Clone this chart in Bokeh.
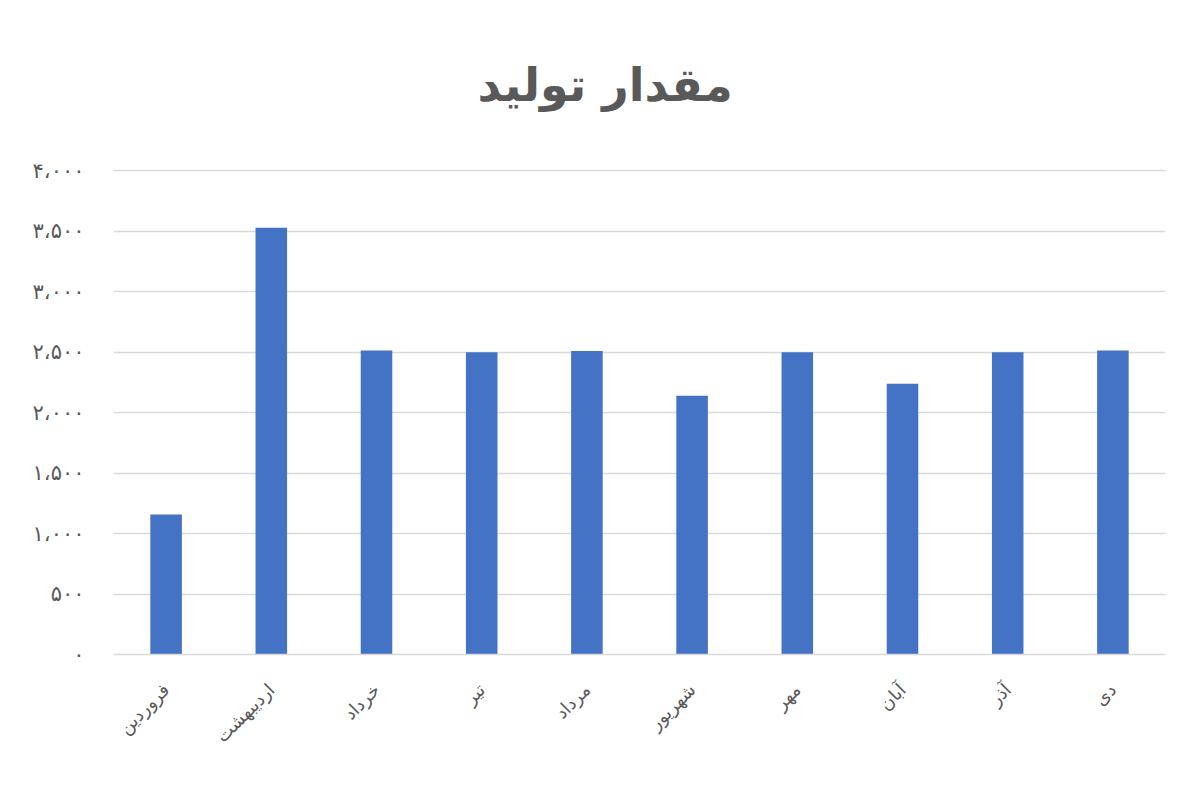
from bokeh.plotting import figure
from bokeh.models import ColumnDataSource, Range1d, FixedTicker
from bokeh.embed import file_html
from bokeh.resources import INLINE
import math

months = ["فروردین", "اردیبهشت", "خرداد", "تیر", "مرداد", "شهریور", "مهر", "آبان", "آذر", "دی"]
production = [1157, 3530, 2515, 2500, 2510, 2140, 2500, 2240, 2500, 2515]
y_ticks = [0, 500, 1000, 1500, 2000, 2500, 3000, 3500, 4000]
y_tick_labels = ["۰", "۵۰۰", "۱،۰۰۰", "۱،۵۰۰", "۲،۰۰۰", "۲،۵۰۰", "۳،۰۰۰", "۳،۵۰۰", "۴،۰۰۰"]
title_text = "مقدار تولید"

src = ColumnDataSource(dict(month=months, value=production))

p = figure(
    x_range=months,
    y_range=Range1d(0, 4020),
    width=1184,
    height=774,
    output_backend="svg",
    toolbar_location=None,
    min_border_left=113,
    min_border_right=19,
    min_border_top=168,
    min_border_bottom=120,
)

p.vbar(x="month", top="value", width=0.3, source=src,
       fill_color="#4472C4", line_color=None)

p.title.text = title_text
p.title.text_font = "DejaVu Sans"
p.title.text_font_size = "46px"
p.title.text_font_style = "bold"
p.title.text_color = "#595959"
p.title.align = "left"
p.title.offset = 364
p.title.standoff = 110
p.title.vertical_align = "top"

p.outline_line_color = None
p.background_fill_color = "white"
p.border_fill_color = "white"

p.xgrid.grid_line_color = None
p.ygrid.grid_line_color = "#d9d9d9"
p.ygrid.grid_line_width = 1.5
p.ygrid.ticker = FixedTicker(ticks=y_ticks)

p.yaxis.ticker = FixedTicker(ticks=y_ticks)
p.yaxis.major_label_overrides = {t: l for t, l in zip(y_ticks, y_tick_labels)}
p.yaxis.axis_line_color = None
p.yaxis.major_tick_line_color = None
p.yaxis.minor_tick_line_color = None
p.yaxis.major_label_standoff = 23
p.yaxis.major_label_text_font = "DejaVu Sans"
p.yaxis.major_label_text_font_size = "21px"
p.yaxis.major_label_text_color = "#595959"

p.xaxis.axis_line_color = "#d9d9d9"
p.xaxis.axis_line_width = 1.5
p.xaxis.major_tick_line_color = None
p.xaxis.minor_tick_line_color = None
p.xaxis.major_label_orientation = math.pi / 4
p.xaxis.major_label_standoff = 26
p.xaxis.major_label_text_font = "DejaVu Sans"
p.xaxis.major_label_text_font_size = "18px"
p.xaxis.major_label_text_color = "#595959"

open("out.html", "w").write(file_html(p, INLINE))
